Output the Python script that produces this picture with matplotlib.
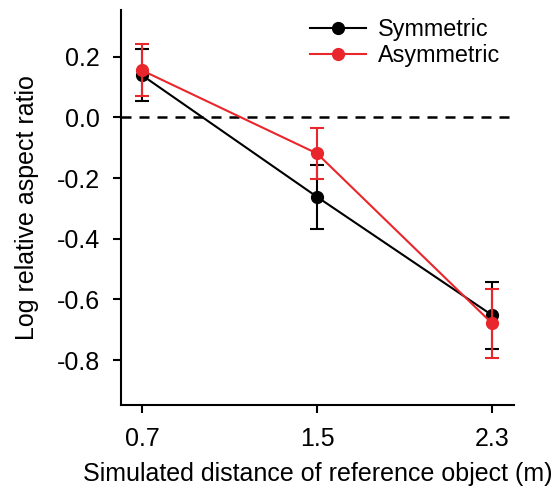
import numpy as np
import matplotlib
matplotlib.use("Agg")
import matplotlib.pyplot as plt
from matplotlib.lines import Line2D

plt.rcParams['font.family'] = ['Liberation Sans', 'DejaVu Sans']

# distances (m)
distance = [0.7, 1.5, 2.3]

# symmetric condition
sym_mean = [0.139, -0.262, -0.652]
sym_err = [0.085, 0.105, 0.11]

# asymmetric condition
asym_mean = [0.155, -0.119, -0.679]
asym_err = [0.086, 0.084, 0.115]

red = '#e8262c'

fig = plt.figure(figsize=(5.53, 4.87), dpi=100)
ax = fig.add_axes([121 / 553, 1 - 405 / 487, (514 - 121) / 553, (405 - 10) / 487])

ax.axhline(0, color='black', lw=1.8, ls=(0, (4, 3.2)), zorder=1)

ax.errorbar(distance, sym_mean, yerr=sym_err, color='black', marker='o', ms=8.5,
            lw=1.5, elinewidth=1.5, capsize=5, capthick=1.5, zorder=3)
ax.errorbar(distance, asym_mean, yerr=asym_err, color=red, marker='o', ms=8.5,
            lw=1.5, elinewidth=1.5, capsize=5, capthick=1.5, zorder=4)

ax.set_xlim(0.604, 2.4)
ax.set_ylim(-0.948, 0.354)
ax.set_xticks(distance)
ax.set_xticklabels(['0.7', '1.5', '2.3'])
ax.set_yticks([0.2, 0.0, -0.2, -0.4, -0.6, -0.8])
ax.set_yticklabels(['0.2', '0.0', '-0.2', '-0.4', '-0.6', '-0.8'])

for s in ['top', 'right']:
    ax.spines[s].set_visible(False)
for s in ['left', 'bottom']:
    ax.spines[s].set_linewidth(1.5)
ax.tick_params(axis='both', labelsize=18, width=1.5, length=6, direction='out')
ax.tick_params(axis='x', pad=10)
ax.tick_params(axis='y', pad=9)

ax.set_xlabel('Simulated distance of reference object (m)', fontsize=18, labelpad=8)
ax.set_ylabel('Log relative aspect ratio', fontsize=18, labelpad=13)

handles = [Line2D([], [], color='black', marker='o', ms=8.5, lw=1.5),
           Line2D([], [], color=red, marker='o', ms=8.5, lw=1.5)]
ax.legend(handles, ['Symmetric', 'Asymmetric'], loc='upper left', frameon=False,
          fontsize=16.8, handlelength=2.4, handletextpad=0.5, labelspacing=0.12,
          borderpad=0.0, borderaxespad=0.0, bbox_to_anchor=(0.481, 0.98))

fig.savefig('out.png', dpi=100)
